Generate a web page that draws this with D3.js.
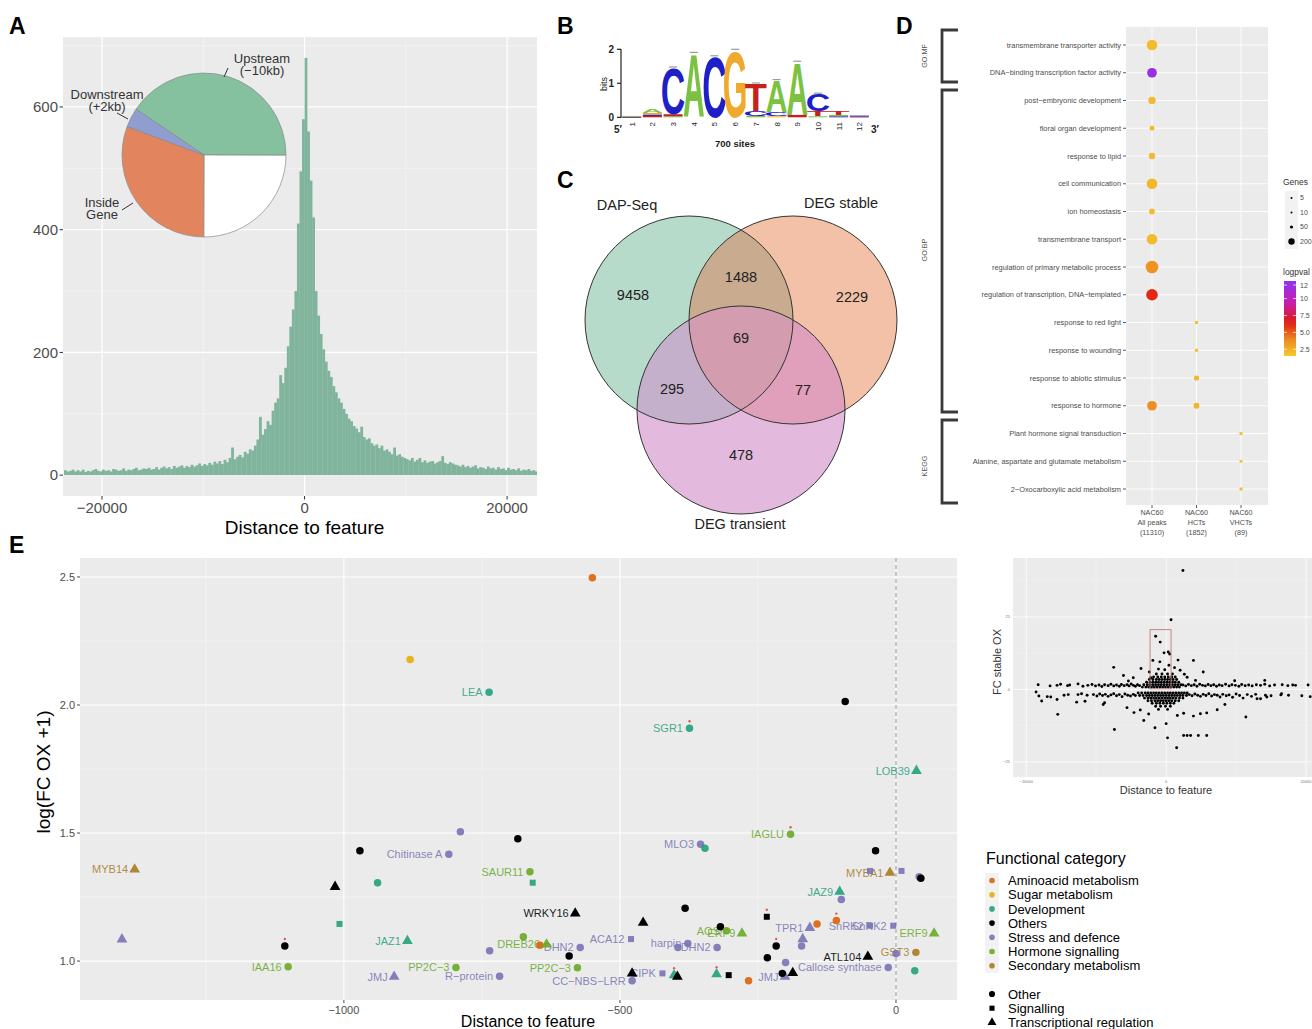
<!DOCTYPE html>
<html><head><meta charset="utf-8">
<script src="https://cdn.jsdelivr.net/npm/d3@7"></script>
<style>body{margin:0;background:#fff}svg{display:block}text{font-family:"Liberation Sans",Arial,Helvetica,sans-serif}</style>
</head><body><svg id="fig" width="1312" height="1029"></svg>
<script>
// ================= DATA =================
// Panel A: histogram of peak distance to feature (250 bp bins starting at -23750)
const histStart = -23750, histBinWidth = 250;
const histCounts = [8,6,7,9,6,
 8,6,9,5,7,6,8,10,7,6,9,7,8,6,10,9,7,8,11,7,9,8,10,12,8,9,11,10,12,9,
 10,13,9,12,14,11,13,10,15,12,14,16,12,15,13,17,14,16,19,15,
 18,16,20,17,22,19,23,18,25,21,
 28,45,26,30,33,29,38,35,42,40,
 48,58,95,66, 75,88,82,105, 118,125,163,150, 175,210,242,270, 300,410, 495,580,
 680,560,480,420,300,260,230,205,185,170,
 160,145,135,125,118,108,100,92,88,80,
 76,70,79,62,58,60,52,48,50,44,
 48,40,42,38,34,45,32,34,30,28,
 26,24,28,22,25,28,21,24,20,22,23,19,21,23,31,20,18,21,19,17,
 16,14,17,13,15,12,14,16,11,13,12,10,14,11,12,9,13,10,11,8,12,9,10,8,11,7,9,8,10,7,
 8,6,9];
const histXTicks = [-20000, 0, 20000];
const histYTicks = [0, 200, 400, 600];
// Pie inset (clockwise from upper-left)
const pieNames = ["Upstream (−10kb)", "Other", "Inside Gene", "Downstream (+2kb)"];
const pieShares = [40.6, 25.0, 30.6, 3.8];
const pieColors = ["#85c19f", "#ffffff", "#e2855f", "#8f9dd1"];

// Panel B: motif logo, stacks bottom -> top [letter, bits]
const logoPositions = [1,2,3,4,5,6,7,8,9,10,11,12];
const logoStacks = [
 [["T",0.01],["C",0.01],["A",0.02]],
 [["T",0.04],["C",0.04],["G",0.05],["A",0.12]],
 [["A",0.03],["T",0.06],["C",1.36]],
 [["A",1.88]],
 [["C",1.78]],
 [["G",1.97]],
 [["A",0.04],["C",0.14],["T",0.80]],
 [["G",0.03],["C",0.12],["A",0.93]],
 [["T",0.07],["A",1.55]],
 [["A",0.03],["T",0.15],["C",0.50]],
 [["C",0.03],["A",0.04],["T",0.10]],
 [["T",0.02],["C",0.03]]
];
const logoColors = {A:"#7cc242", C:"#1f1fc8", G:"#f0a92c", T:"#c8201e"};

// Panel C: Venn
const vennSets = ["DAP-Seq", "DEG stable", "DEG transient"];
const vennRegions = ["A", "B", "C", "AB", "AC", "BC", "ABC"];
const vennCounts = [9458, 2229, 478, 1488, 295, 77, 69];

// Panel D: enrichment dot plot
const goGroups = ["GO:MF", "GO:BP", "KEGG"];
const goTerms = ["transmembrane transporter activity","DNA−binding transcription factor activity",
 "post−embryonic development","floral organ development","response to lipid","cell communication",
 "ion homeostasis","transmembrane transport","regulation of primary metabolic process",
 "regulation of transcription, DNA−templated","response to red light","response to wounding",
 "response to abiotic stimulus","response to hormone","Plant hormone signal transduction",
 "Alanine, aspartate and glutamate metabolism","2−Oxocarboxylic acid metabolism"];
const goColumns = [["NAC60","All peaks","(11310)"],["NAC60","HCTs","(1852)"],["NAC60","VHCTs","(89)"]];
const goDotTerm  = [0,1,2,3,4,5,6,7,8,9,10,11,12,13,13,14,15,16];
const goDotCol   = [0,0,0,0,0,0,0,0,0,0,1,1,1,0,1,2,2,2];
const goDotGenes = [143,118,68,30,51,143,42,143,200,170,15,15,34,118,42,15,12,15];
const goDotLogp  = [2.0,12.0,2.1,2.0,2.1,2.2,2.0,2.1,3.6,6.2,1.9,1.9,2.2,3.8,2.3,1.8,1.8,1.9];
const goSizeBreaks = [5, 10, 50, 200];
const goColorBreaks = [2.5, 5.0, 7.5, 10, 12];

// Panel E: candidate genes
const eCategories = ["Aminoacid metabolism","Sugar metabolism","Development","Others","Stress and defence","Hormone signalling","Secondary metabolism"];
const eCatColors = ["#d95f02","#e6ab02","#1b9e77","#000000","#7570b3","#66a61e","#a6761d"];
const eShapeNames = ["Other","Signalling","Transcriptional regulation"];
const eLabel = ["","","LEA","SGR1","","LOB39","","","","Chitinase A","MLO3","","IAGLU","","MYB14","SAUR11","","","",
 "","","MYBA1","","","JAZ9","","","WRKY16","","","","","","SnRK2","SnRK2","TPR1","","","ERF9","","AOS","ERF9",
 "ACA12","","","DREB26","DHN2","","","PP2C−3","PP2C−3","R−protein","CC−NBS−LRR","","CIPK","","","","harpin","DHN2",
 "","","","","","JMJ","","","","Callose synthase","ATL104","GST3","","","","","JAZ1","IAA16","JMJ"];
const eDist = [-550,-880,-737,-374,-92,37,-789,-685,-971,-810,-354,-346,-191,-37,-1379,-663,-658,-939,-1016,
 -47,10,-11,42,45,-102,-99,-1008,-581,-382,-458,-234,-143,-108,-47,-5,-156,-169,-171,69,-318,-307,-279,
 -480,-675,-645,-633,-572,-736,-592,-577,-797,-718,-478,-478,-423,-402,-396,-395,-377,-324,
 -325,-303,-267,-233,-217,-201,-206,-187,-200,-14,-51,36,0,34,-1402,-1107,-885,-1101,-909];
const eLogFC = [2.497,2.178,2.050,1.909,2.014,1.743,1.505,1.478,1.431,1.417,1.456,1.441,1.495,1.431,1.358,1.349,1.306,1.306,1.290,
 1.352,1.352,1.345,1.329,1.323,1.271,1.240,1.145,1.186,1.206,1.150,1.173,1.145,1.158,1.138,1.138,1.130,1.086,1.059,1.108,1.134,1.118,1.108,
 1.086,1.095,1.062,1.065,1.053,1.040,1.020,0.974,0.975,0.941,0.923,0.952,0.952,0.945,0.939,1.053,1.069,1.053,
 0.949,0.945,0.923,1.013,1.059,0.939,0.952,0.954,0.994,0.975,1.017,1.034,1.030,0.962,1.085,1.059,1.079,0.978,0.939];
const eCat = [0,1,2,2,3,2,4,3,3,4,4,2,5,3,6,5,2,2,3,
 4,4,6,4,3,2,4,2,3,3,3,3,0,0,4,4,4,4,4,5,3,5,5,
 4,5,0,5,4,4,3,5,5,4,4,3,4,2,3,4,4,4,
 2,3,0,3,3,4,3,3,4,4,3,6,4,2,4,3,2,5,4];
const eShape = [0,0,0,0,0,2,0,0,0,0,0,0,0,0,2,0,1,0,2,
 1,1,2,0,0,2,0,1,2,0,2,1,0,0,1,1,2,2,0,2,0,0,2,
 1,0,0,2,0,0,0,0,0,0,0,2,1,2,2,0,0,0,
 2,1,0,0,0,2,0,2,0,0,2,0,0,0,2,0,2,0,2];
const eStar = [0,0,0,1,0,0,0,0,0,0,0,0,1,0,0,0,0,0,0,
 0,0,0,0,0,0,0,0,0,0,0,1,0,1,0,0,0,0,0,0,0,0,0,
 0,0,0,0,0,0,0,0,0,0,0,0,0,1,0,0,0,0,
 1,0,0,0,1,0,0,0,0,0,0,0,0,0,0,1,0,0,0];
const eXTicks = [-1000, -500, 0];
const eYTicks = [1.0, 1.5, 2.0, 2.5];

// Panel E inset: all genes (distance in kb, FC stable OX)
const insetUpperBand = [[-18.3,1.6],[-16.6,1.2],[-15.6,1.4],[-15.1,1.8],[-14.1,1.3],[-13.8,1.5],[-12.6,1.9],[-11.9,1.1],[-11.2,1.4],[-10.6,1.7],[-10.1,1.2],
 [-9.6,1.5],[-9.2,1.0],[-8.8,1.6],[-8.3,1.3],[-7.9,1.8],[-7.5,1.2],[-7.1,1.5],[-6.7,1.1],[-6.4,1.7],[-6.0,1.3],[-5.6,1.6],[-5.3,1.2],
 [-5.0,1.9],[-4.7,1.4],[-4.4,1.1],[-4.1,1.6],[-3.8,1.3],[2.4,1.5],[2.8,1.2],[3.2,1.7],[3.6,1.3],[4.0,1.6],[4.4,1.1],[4.8,1.8],[5.2,1.4],
 [5.6,1.2],[6.0,1.7],[6.4,1.3],[6.8,1.6],[7.2,1.1],[7.6,1.5],[8.0,1.3],[8.5,1.8],[9.0,1.2],[9.4,1.6],[9.9,1.4],[10.4,1.1],[10.8,1.7],
 [11.3,1.3],[11.8,1.5],[12.3,1.2],[12.9,1.6],[13.5,1.4],[14.1,1.8],[14.8,1.2],[15.5,1.5],[16.6,1.6],[17.4,1.3],[18.1,1.5],[18.5,1.4],[20.3,1.5]];
const insetLowerBand = [[-18.6,-0.9],[-18.2,-2.3],[-17.8,-4.0],[-17.0,-2.5],[-16.5,-2.6],[-15.6,-3.5],[-14.6,-2.0],[-14.0,-1.8],[-12.6,-1.8],[-12.1,-1.5],
 [-11.3,-2.0],[-10.4,-1.8],[-9.9,-2.3],[-9.5,-1.6],[-9.1,-2.1],[-8.7,-1.7],[-8.3,-2.4],[-7.9,-1.9],[-7.5,-1.5],[-7.1,-2.2],[-6.7,-1.8],
 [-6.3,-2.5],[-5.9,-1.6],[-5.5,-2.0],[-5.1,-2.3],[-4.7,-1.7],[-4.4,-2.1],[3.3,-1.8],[3.7,-2.2],[4.1,-1.6],[4.5,-2.0],[4.9,-2.4],[5.3,-1.7],
 [5.7,-2.1],[6.1,-1.5],[6.5,-2.3],[6.9,-1.8],[7.3,-2.0],[7.7,-2.6],[8.1,-1.7],[8.6,-2.2],[9.0,-1.9],[9.5,-2.7],[10.0,-1.6],[10.5,-2.1],
 [11.0,-3.0],[11.6,-1.8],[12.2,-2.4],[12.8,-1.7],[13.5,-3.2],[14.2,-2.0],[15.0,-2.2],[16.4,-1.9],[17.5,-2.0],[19.4,-2.2],[20.6,-2.5]];
const insetCoreRowY = [0.8, 1.6, 2.5, 3.4, 4.3, 5.3, -1.2, -2.1, -3.0, -3.9, -4.8, -5.8, -6.9];
const insetCoreRowX = [
 [-3.4,-2.9,-2.5,-2.1,-1.7,-1.3,-0.9,-0.5,-0.1,0.3,0.7,1.1,1.5,1.9],
 [-3.2,-2.7,-2.3,-1.9,-1.5,-1.1,-0.7,-0.3,0.1,0.5,0.9,1.3,1.7,2.1],
 [-2.8,-2.3,-1.9,-1.5,-1.1,-0.7,-0.3,0.1,0.5,0.9,1.3,1.8],
 [-2.4,-1.9,-1.4,-1.0,-0.6,-0.2,0.2,0.6,1.0,1.5],
 [-1.8,-1.2,-0.7,-0.2,0.3,0.8,1.3],
 [-1.4,-0.6,0.2,0.9],
 [-4.0,-3.5,-3.0,-2.6,-2.2,-1.8,-1.4,-1.0,-0.6,-0.2,0.2,0.6,1.0,1.4,1.8,2.2,2.6,3.0],
 [-3.8,-3.3,-2.8,-2.4,-2.0,-1.6,-1.2,-0.8,-0.4,0.0,0.4,0.8,1.2,1.6,2.0,2.4,2.9],
 [-3.1,-2.6,-2.2,-1.8,-1.4,-1.0,-0.6,-0.2,0.2,0.6,1.0,1.4,1.9,2.4],
 [-2.6,-2.1,-1.6,-1.2,-0.8,-0.4,0.0,0.4,0.8,1.3,1.8],
 [-2.0,-1.4,-0.9,-0.4,0.1,0.6,1.1],
 [-1.5,-0.8,-0.1,0.6],
 [-1.1,0.2]];
const insetOutliers = [[2.4,41],[0.7,24],[-1.5,18.3],[-0.85,16.3],[-0.3,12.6],[0.3,12.9],[0.5,12.2],[-1.9,10],[-0.9,9.5],[3.9,10],[1.7,10.1],
 [-7.5,7.6],[-3.6,7.2],[5.3,6.0],[2.0,6.6],[-6.1,4.8],[-4.7,4.0],[-2.2,4.0],[14.1,3.1],[1.2,7.5],[0.4,8.3],[-0.2,6.8],[2.6,5.2],[-2.4,6.0],
 [-5.4,2.9],[3.0,4.2],[4.2,3.1],[-1.1,7.0],[9.8,3.0],
 [-12.8,-4.4],[-11.6,-4.1],[-15.5,-8.6],[-9.0,-5.2],[-7.4,-13.8],[-3.2,-10.7],[-1.6,-13.2],[0.0,-11.8],[0.2,-16.7],[1.5,-20.1],
 [2.5,-15.9],[3.0,-15.9],[3.5,-15.9],[4.6,-15.9],[5.8,-15.9],[3.9,-9.2],[4.9,-8.4],[5.8,-8.1],[7.3,-7.0],[11.4,-9.5],[13.0,-3.2],
 [14.4,-2.6],[16.5,-1.5],[-3.7,-7.1],[-4.6,-8.0],[-5.6,-6.3],[2.5,-8.2],[-2.5,-8.5],[1.6,-9.0],[8.4,-5.2],[-8.8,-4.6]];
const insetBox = [-2.3, 0.7, 0.2, 20.6];
const insetXTicks = [-20, 0, 20];
const insetYTicks = [-25, 0, 25];

// ================= DRAWING =================
const svg = d3.select("#fig");
svg.append("rect").attr("width",1312).attr("height",1029).attr("fill","#fff");
const BG = "#ebebeb", TXT = "#4d4d4d";
const defs = svg.append("defs");
function panelLetter(t, x, y){ svg.append("text").attr("x",x).attr("y",y).attr("font-size",23).attr("font-weight","bold").attr("fill","#000").text(t); }
function hline(g,x1,x2,y,w,c){ g.append("line").attr("x1",x1).attr("x2",x2).attr("y1",y).attr("y2",y).attr("stroke",c).attr("stroke-width",w); }
function vline(g,x,y1,y2,w,c){ g.append("line").attr("x1",x).attr("x2",x).attr("y1",y1).attr("y2",y2).attr("stroke",c).attr("stroke-width",w); }

// ---------- Panel A ----------
panelLetter("A", 9, 34);
const gA = svg.append("g");
const PA = {l:63, r:537, t:37, b:496};
const xA = d3.scaleLinear().domain([-23850, 22950]).range([PA.l, PA.r]);
const yA = d3.scaleLinear().domain([-34, 714]).range([PA.b, PA.t]);
defs.append("clipPath").attr("id","clipA").append("rect").attr("x",PA.l).attr("y",PA.t).attr("width",PA.r-PA.l).attr("height",PA.b-PA.t);
gA.append("rect").attr("x",PA.l).attr("y",PA.t).attr("width",PA.r-PA.l).attr("height",PA.b-PA.t).attr("fill",BG);
[100,300,500,700].forEach(v=>hline(gA,PA.l,PA.r,yA(v),0.6,"#f7f7f7"));
[-10000,10000].forEach(v=>vline(gA,xA(v),PA.t,PA.b,0.6,"#f7f7f7"));
histYTicks.forEach(v=>hline(gA,PA.l,PA.r,yA(v),1.2,"#fff"));
histXTicks.forEach(v=>vline(gA,xA(v),PA.t,PA.b,1.2,"#fff"));
const gBars = gA.append("g").attr("clip-path","url(#clipA)");
histCounts.forEach((c,i)=>{
  const x0 = histStart + i*histBinWidth;
  gBars.append("rect").attr("x",xA(x0)).attr("width",xA(x0+histBinWidth)-xA(x0)+0.3)
    .attr("y",yA(c)).attr("height",yA(0)-yA(c)).attr("fill","#80b49d");
});
histYTicks.forEach(v=>{
  hline(gA,PA.l-3.5,PA.l,yA(v),1,"#333");
  gA.append("text").attr("x",PA.l-5).attr("y",yA(v)).attr("dy","0.35em").attr("text-anchor","end").attr("font-size",15).attr("fill",TXT).text(v);
});
histXTicks.forEach(v=>{
  vline(gA,xA(v),PA.b,PA.b+3.5,1,"#333");
  gA.append("text").attr("x",xA(v)).attr("y",PA.b+17).attr("text-anchor","middle").attr("font-size",15).attr("fill",TXT).text(d3.format("d")(v).replace("-","−"));
});
gA.append("text").attr("x",xA(0)).attr("y",534).attr("text-anchor","middle").attr("font-size",19).attr("fill","#000").text("Distance to feature");
// pie inset
const pieC = [204,155], pieR = 82;
const pieStart = 304*Math.PI/180;
const arcs = d3.pie().sort(null).startAngle(pieStart).endAngle(pieStart+2*Math.PI)(pieShares);
const arcGen = d3.arc().innerRadius(0).outerRadius(pieR);
const gPie = gA.append("g").attr("transform",`translate(${pieC[0]},${pieC[1]})`);
gPie.selectAll("path").data(arcs).join("path").attr("d",arcGen).attr("fill",(d,i)=>pieColors[i]).attr("stroke","#8a8a8a").attr("stroke-width",0.7);
function pieLabel(lines,x,y){ const t=gA.append("text").attr("font-size",13).attr("fill","#333").attr("text-anchor","middle");
  lines.forEach((s,k)=>t.append("tspan").attr("x",x).attr("y",y+k*11.5).text(s)); }
pieLabel(["Upstream","(−10kb)"], 262, 63);
pieLabel(["Downstream","(+2kb)"], 107, 99);
pieLabel(["Inside","Gene"], 102, 207);
gA.append("line").attr("x1",228).attr("y1",68).attr("x2",224).attr("y2",77).attr("stroke","#333");
gA.append("line").attr("x1",117).attr("y1",113).attr("x2",128).attr("y2",119).attr("stroke","#333");
gA.append("line").attr("x1",122).attr("y1",210).attr("x2",133).attr("y2",203).attr("stroke","#333");

// ---------- Panel B ----------
panelLetter("B", 557, 34);
const gB = svg.append("g");
const xL = d3.scaleLinear().domain([1,12]).range([631.7,859.3]);
const yL = d3.scaleLinear().domain([0,2]).range([117.3,49.3]);
const inkW = {A:0.70,C:0.62,G:0.66,T:0.58};
logoStacks.forEach((stack,pi)=>{
  let base = 0;
  const cx = xL(logoPositions[pi]);
  stack.forEach(([ch,h])=>{
    const y0 = yL(base), y1 = yL(base+h), hp = y0-y1, w = 21;
    if (h < 0.09) {
      gB.append("rect").attr("x",cx-w/2+1).attr("y",y1).attr("width",w-2).attr("height",Math.max(hp,0.8)).attr("fill",logoColors[ch]);
    } else {
      gB.append("text").attr("x",0).attr("y",0).attr("text-anchor","middle").attr("font-size",100).attr("font-weight","bold")
        .attr("fill",logoColors[ch]).attr("transform",`translate(${cx},${y0}) scale(${w/(inkW[ch]*100)},${hp/71.6})`).text(ch);
    }
    base += h;
  });
  if (base > 0.5) hline(gB,cx-4,cx+4,yL(base)-1,1.2,"#9a9a9a");
});
vline(gB,621,49,118,1.2,"#222");
[0,1,2].forEach(v=>{ hline(gB,617,621,yL(v),1.2,"#222");
  gB.append("text").attr("x",614).attr("y",yL(v)).attr("dy","0.35em").attr("text-anchor","end").attr("font-size",10).attr("font-weight","bold").attr("fill","#222").text(v); });
gB.append("text").attr("transform","translate(607,84) rotate(-90)").attr("text-anchor","middle").attr("font-size",9).attr("fill","#222").text("bits");
logoPositions.forEach(p=>{
  gB.append("text").attr("transform",`translate(${xL(p)+3},${122}) rotate(-90)`).attr("text-anchor","end").attr("font-size",8).attr("fill","#222").text(p);
});
gB.append("text").attr("x",618).attr("y",133).attr("text-anchor","middle").attr("font-size",10).attr("font-weight","bold").attr("fill","#222").text("5′");
gB.append("text").attr("x",875).attr("y",133).attr("text-anchor","middle").attr("font-size",10).attr("font-weight","bold").attr("fill","#222").text("3′");
gB.append("text").attr("x",735).attr("y",147).attr("text-anchor","middle").attr("font-size",9.5).attr("font-weight","bold").attr("fill","#222").text("700 sites");

// ---------- Panel C ----------
panelLetter("C", 557, 188);
const gC = svg.append("g");
const vennCircles = [[689,320,104],[793,320,104],[741,410,104]];
const vennBase = ["#b7dbca","#f2c1a7","#e3bade"];
vennCircles.forEach((c,i)=>defs.append("clipPath").attr("id","vc"+i).append("circle").attr("cx",c[0]).attr("cy",c[1]).attr("r",c[2]));
vennCircles.forEach((c,i)=>gC.append("circle").attr("cx",c[0]).attr("cy",c[1]).attr("r",c[2]).attr("fill",vennBase[i]));
function clipped(ci, circ, col){ gC.append("g").attr("clip-path",`url(#vc${ci})`).append("circle").attr("cx",circ[0]).attr("cy",circ[1]).attr("r",circ[2]).attr("fill",col); }
clipped(0, vennCircles[1], "#c9ab90");
clipped(0, vennCircles[2], "#c4b0cb");
clipped(1, vennCircles[2], "#e0a0bb");
gC.append("g").attr("clip-path","url(#vc0)").append("g").attr("clip-path","url(#vc1)").append("circle")
  .attr("cx",vennCircles[2][0]).attr("cy",vennCircles[2][1]).attr("r",vennCircles[2][2]).attr("fill","#d39daf");
vennCircles.forEach(c=>gC.append("circle").attr("cx",c[0]).attr("cy",c[1]).attr("r",c[2]).attr("fill","none").attr("stroke","#333").attr("stroke-width",1));
const vennLabelPos = {A:[633,295],B:[852,297],C:[741,455],AB:[741,277],AC:[672,389],BC:[803,390],ABC:[741,338]};
vennRegions.forEach((r,i)=>gC.append("text").attr("x",vennLabelPos[r][0]).attr("y",vennLabelPos[r][1]).attr("dy","0.35em")
  .attr("text-anchor","middle").attr("font-family","DejaVu Sans").attr("font-size",14.5).attr("fill","#222").text(vennCounts[i]));
const vennSetPos = [[627,205],[841,203],[740,524]];
vennSets.forEach((s,i)=>gC.append("text").attr("x",vennSetPos[i][0]).attr("y",vennSetPos[i][1]).attr("dy","0.35em")
  .attr("text-anchor","middle").attr("font-family","DejaVu Sans").attr("font-size",14.5).attr("fill","#222").text(s));

// ---------- Panel D ----------
panelLetter("D", 896, 34);
const gD = svg.append("g");
const PD = {l:1126, r:1268, t:27, b:505};
const yD = d3.scalePoint().domain(goTerms).range([45,489]);
const xD = d3.scalePoint().domain([0,1,2]).range([1152,1241]);
const rD = d3.scaleSqrt().domain([0,200]).range([0,6.3]);
const cD = d3.scaleLinear().domain([1.5,4,6.5,9.5,12.6]).range(["#f5c92e","#ec8a20","#de1b10","#c61fb5","#8e33f0"]);
gD.append("rect").attr("x",PD.l).attr("y",PD.t).attr("width",PD.r-PD.l).attr("height",PD.b-PD.t).attr("fill",BG);
goTerms.forEach(t=>hline(gD,PD.l,PD.r,yD(t),0.9,"#fff"));
[0,1,2].forEach(c=>vline(gD,xD(c),PD.t,PD.b,0.9,"#fff"));
goDotTerm.forEach((ti,k)=>gD.append("circle").attr("cx",xD(goDotCol[k])).attr("cy",yD(goTerms[ti])).attr("r",rD(goDotGenes[k])).attr("fill",cD(goDotLogp[k])));
goTerms.forEach(t=>{ hline(gD,PD.l-3,PD.l,yD(t),0.8,"#333");
  gD.append("text").attr("x",PD.l-5).attr("y",yD(t)).attr("dy","0.35em").attr("text-anchor","end").attr("font-size",7.4).attr("fill",TXT).text(t); });
goColumns.forEach((lines,c)=>{ vline(gD,xD(c),PD.b,PD.b+3,0.8,"#333");
  lines.forEach((s,k)=>gD.append("text").attr("x",xD(c)).attr("y",515+k*10).attr("text-anchor","middle").attr("font-size",7.2).attr("fill",TXT).text(s)); });
const brackets = [[30,82],[90,412],[420,503]];
const bracketLabelY = [56,250,466];
brackets.forEach(([y1,y2],i)=>{
  gD.append("path").attr("d",`M958,${y1}H942V${y2}H958`).attr("fill","none").attr("stroke","#3a3a3a").attr("stroke-width",2.8);
  gD.append("text").attr("transform",`translate(927,${bracketLabelY[i]}) rotate(-90)`).attr("text-anchor","middle").attr("font-size",7.2).attr("fill","#555").text(goGroups[i]);
});
// size legend
gD.append("text").attr("x",1283).attr("y",185).attr("font-size",8.5).attr("fill","#333").text("Genes");
gD.append("rect").attr("x",1285).attr("y",191).attr("width",13).attr("height",58).attr("fill","#f2f2f2");
const rLeg = d3.scaleSqrt().domain([0,200]).range([0,3.2]);
goSizeBreaks.forEach((s,k)=>{ const y=198+k*14.5;
  gD.append("circle").attr("cx",1291.5).attr("cy",y).attr("r",Math.max(1,rLeg(s))).attr("fill","#000");
  gD.append("text").attr("x",1300).attr("y",y).attr("dy","0.35em").attr("font-size",7).attr("fill",TXT).text(s); });
// colour legend
gD.append("text").attr("x",1283).attr("y",275).attr("font-size",8.5).attr("fill","#333").text("logpval");
const cbY = d3.scaleLinear().domain([1.5,12.6]).range([356,281]);
const grad = defs.append("linearGradient").attr("id","gocb").attr("x1",0).attr("x2",0).attr("y1",1).attr("y2",0);
d3.range(0,1.001,0.1).forEach(f=>grad.append("stop").attr("offset",f).attr("stop-color",cD(1.5+f*11.1)));
gD.append("rect").attr("x",1284).attr("y",281).attr("width",12).attr("height",75).attr("fill","url(#gocb)");
goColorBreaks.forEach(v=>{ hline(gD,1284,1287,cbY(v),0.7,"#fff"); hline(gD,1293,1296,cbY(v),0.7,"#fff");
  gD.append("text").attr("x",1300).attr("y",cbY(v)).attr("dy","0.35em").attr("font-size",7).attr("fill",TXT).text(v===10||v===12?v:v.toFixed(1)); });

// ---------- Panel E ----------
panelLetter("E", 9, 553);
const gE = svg.append("g");
const PE = {l:80, r:957, t:558, b:1000};
const xE = d3.scaleLinear().domain([-1478, 110.5]).range([PE.l, PE.r]);
const yE = d3.scaleLinear().domain([0.848, 2.574]).range([PE.b, PE.t]);
gE.append("rect").attr("x",PE.l).attr("y",PE.t).attr("width",PE.r-PE.l).attr("height",PE.b-PE.t).attr("fill",BG);
[1.25,1.75,2.25].forEach(v=>hline(gE,PE.l,PE.r,yE(v),0.55,"#f7f7f7"));
[-1250,-750,-250].forEach(v=>vline(gE,xE(v),PE.t,PE.b,0.55,"#f7f7f7"));
eYTicks.forEach(v=>hline(gE,PE.l,PE.r,yE(v),1.1,"#fff"));
eXTicks.forEach(v=>vline(gE,xE(v),PE.t,PE.b,1.1,"#fff"));
gE.append("line").attr("x1",xE(0)).attr("x2",xE(0)).attr("y1",PE.t).attr("y2",PE.b).attr("stroke","#7a7a7a").attr("stroke-width",0.8).attr("stroke-dasharray","4,3");
const symSize = [44, 36, 50];
const symTypes = [d3.symbolCircle, d3.symbolSquare, d3.symbolTriangle];
eDist.forEach((d,i)=>{ if(!eLabel[i]) return;
  gE.append("text").attr("x",xE(d)-6.5).attr("y",yE(eLogFC[i])).attr("dy","0.36em").attr("text-anchor","end")
    .attr("font-size",11).attr("fill",eCatColors[eCat[i]]).attr("fill-opacity",eCat[i]===3?0.9:0.85).text(eLabel[i]); });
eDist.forEach((d,i)=>{
  gE.append("path").attr("d",d3.symbol(symTypes[eShape[i]], symSize[eShape[i]])()).attr("transform",`translate(${xE(d)},${yE(eLogFC[i])})`)
    .attr("fill",eCatColors[eCat[i]]).attr("fill-opacity",eCat[i]===3?1:0.88);
  if (eStar[i]) gE.append("circle").attr("cx",xE(d)).attr("cy",yE(eLogFC[i])-7).attr("r",1.2).attr("fill","#e05a5a");
});
eYTicks.forEach(v=>{ hline(gE,PE.l-3,PE.l,yE(v),0.9,"#333");
  gE.append("text").attr("x",PE.l-5).attr("y",yE(v)).attr("dy","0.35em").attr("text-anchor","end").attr("font-size",11).attr("fill",TXT).text(v.toFixed(1)); });
eXTicks.forEach(v=>{ vline(gE,xE(v),PE.b,PE.b+3,0.9,"#333");
  gE.append("text").attr("x",xE(v)).attr("y",PE.b+14).attr("text-anchor","middle").attr("font-size",11).attr("fill",TXT).text(String(v).replace("-","−")); });
gE.append("text").attr("x",528).attr("y",1027).attr("text-anchor","middle").attr("font-size",16).attr("fill","#000").text("Distance to feature");
gE.append("text").attr("transform","translate(50,772) rotate(-90)").attr("text-anchor","middle").attr("font-size",19).attr("fill","#000").text("log(FC OX +1)");

// inset
const gI = svg.append("g");
const PI = {l:1013, r:1320, t:558, b:777};
const xI = d3.scaleLinear().domain([-21.9, 22]).range([PI.l, PI.r]);
const yI = d3.scaleLinear().domain([-30.2, 45.3]).range([PI.b, PI.t]);
gI.append("rect").attr("x",PI.l).attr("y",PI.t).attr("width",PI.r-PI.l).attr("height",PI.b-PI.t).attr("fill",BG);
[-12.5,12.5,37.5].forEach(v=>hline(gI,PI.l,PI.r,yI(v),0.4,"#f7f7f7"));
[-10,10].forEach(v=>vline(gI,xI(v),PI.t,PI.b,0.4,"#f7f7f7"));
insetYTicks.forEach(v=>hline(gI,PI.l,PI.r,yI(v),0.8,"#fff"));
insetXTicks.forEach(v=>vline(gI,xI(v),PI.t,PI.b,0.8,"#fff"));
const insetAll = insetUpperBand.concat(insetLowerBand, insetOutliers);
insetCoreRowY.forEach((y,k)=>insetCoreRowX[k].forEach(x=>insetAll.push([x,y])));
gI.selectAll("circle.pt").data(insetAll).join("circle").attr("class","pt").attr("cx",d=>xI(d[0])).attr("cy",d=>yI(d[1])).attr("r",1.45).attr("fill","#000");
gI.append("rect").attr("x",xI(insetBox[0])).attr("y",yI(insetBox[3])).attr("width",xI(insetBox[1])-xI(insetBox[0])).attr("height",yI(insetBox[2])-yI(insetBox[3]))
  .attr("fill","none").attr("stroke","#c07a7a").attr("stroke-width",0.9);
insetYTicks.forEach(v=>gI.append("text").attr("x",PI.l-3).attr("y",yI(v)).attr("dy","0.35em").attr("text-anchor","end").attr("font-size",4).attr("fill","#777").text(String(v).replace("-","−")));
insetXTicks.forEach(v=>gI.append("text").attr("x",xI(v)).attr("y",PI.b+6).attr("text-anchor","middle").attr("font-size",4).attr("fill","#777").text(String(v*1000).replace("-","−")));
gI.append("text").attr("transform","translate(1001,662) rotate(-90)").attr("text-anchor","middle").attr("font-size",11).attr("fill","#333").text("FC stable OX");
gI.append("text").attr("x",1166).attr("y",794).attr("text-anchor","middle").attr("font-size",11).attr("fill","#333").text("Distance to feature");

// legends E
const gLeg = svg.append("g");
gLeg.append("text").attr("x",986).attr("y",864).attr("font-size",16).attr("fill","#000").text("Functional category");
gLeg.append("rect").attr("x",985).attr("y",873).attr("width",14).attr("height",100).attr("fill","#f2f2f2");
eCategories.forEach((c,k)=>{ const y = 880.5 + k*14.2;
  gLeg.append("circle").attr("cx",992).attr("cy",y).attr("r",2.8).attr("fill",eCatColors[k]).attr("fill-opacity",k===3?1:0.88);
  gLeg.append("text").attr("x",1008).attr("y",y).attr("dy","0.36em").attr("font-size",13).attr("fill","#000").text(c); });
eShapeNames.forEach((s,k)=>{ const y = 994 + k*14.2;
  gLeg.append("path").attr("d",d3.symbol(symTypes[k], [30,26,34][k])()).attr("transform",`translate(992,${y})`).attr("fill","#000");
  gLeg.append("text").attr("x",1008).attr("y",y).attr("dy","0.36em").attr("font-size",13).attr("fill","#000").text(s); });
</script></body></html>
